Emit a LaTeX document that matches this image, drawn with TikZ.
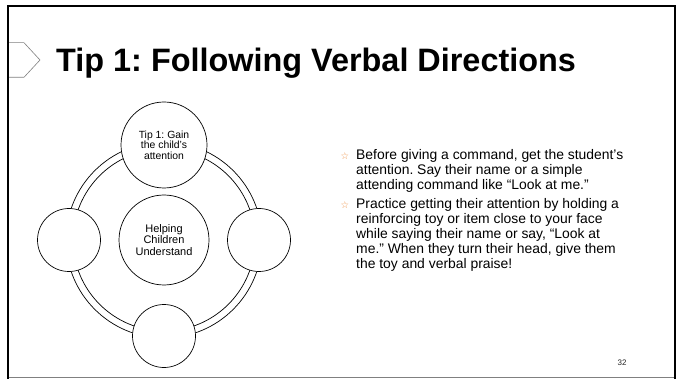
\documentclass[tikz,border=0pt]{standalone}
\usepackage{fontspec}
\setmainfont{Liberation Sans}
\newfontfamily\symfont{DejaVu Sans}
\definecolor{staror}{HTML}{F09850}
\definecolor{edgegray}{HTML}{808080}
\frenchspacing
\begin{document}
\begin{tikzpicture}[x=1pt,y=-1pt,
  frameline/.style={line width=2pt,black},
  ringline/.style={draw=black,line width=0.7pt},
  disc/.style={circle,draw=black,line width=0.7pt,fill=white,inner sep=0pt,align=center},
  bullettext/.style={anchor=base west,align=left,inner sep=0pt,font=\fontsize{13.9}{15}\selectfont},
  staricon/.style={anchor=base,inner sep=0pt,text=staror,font=\symfont\fontsize{9.5}{9.5}\selectfont}]
\useasboundingbox (0,0) rectangle (682,379);
\fill[white] (0,0) rectangle (682,379);

% slide border
\draw[frameline] (8,379) -- (8,6) -- (675,6) -- (675,379);
\draw[edgegray,line width=1pt] (9,377.5) -- (674,377.5);

% title marker
\draw[edgegray,line width=0.6pt,fill=white] (8,42.7) -- (24,42.7) -- (40,60) -- (24,77.3) -- (8,77.3);
\draw[frameline] (8,40) -- (8,80);

% title
\node[anchor=base west,inner sep=0pt,font=\bfseries\fontsize{32.4}{32}\selectfont] (title) at (56,72) {Tip 1: Following Verbal Directions};

% radial diagram
\draw[ringline] (164,240) circle[radius=98pt];
\draw[ringline] (164,240) circle[radius=91pt];
\node[disc,minimum size=90pt,font=\fontsize{11}{11.3}\selectfont] (hub) at (164,240) {Helping\\Children\\Understand};
\node[disc,minimum size=86pt,font=\fontsize{10.4}{10.5}\selectfont] (gain) at (164,145) {Tip 1: Gain\\the child’s\\attention};
\node[disc,minimum size=63pt] (west) at (69,240) {};
\node[disc,minimum size=63pt] (east) at (259,240) {};
\node[disc,minimum size=63pt] (south) at (164,336) {};

% bullet list (base anchor sits on the last line)
\node[staricon] (s1) at (345,160) {☆};
\node[bullettext] (b1) at (356,190) {Before giving a command, get the student’s\\attention. Say their name or a simple\\attending command like “Look at me.”};
\node[staricon] (s2) at (345,209) {☆};
\node[bullettext] (b2) at (356,269) {Practice getting their attention by holding a\\reinforcing toy or item close to your face\\while saying their name or say, “Look at\\me.” When they turn their head, give them\\the toy and verbal praise!};

% slide number
\node[inner sep=0pt,text=black!85,font=\fontsize{8}{8}\selectfont] (pagenum) at (622,363) {32};
\end{tikzpicture}
\end{document}
